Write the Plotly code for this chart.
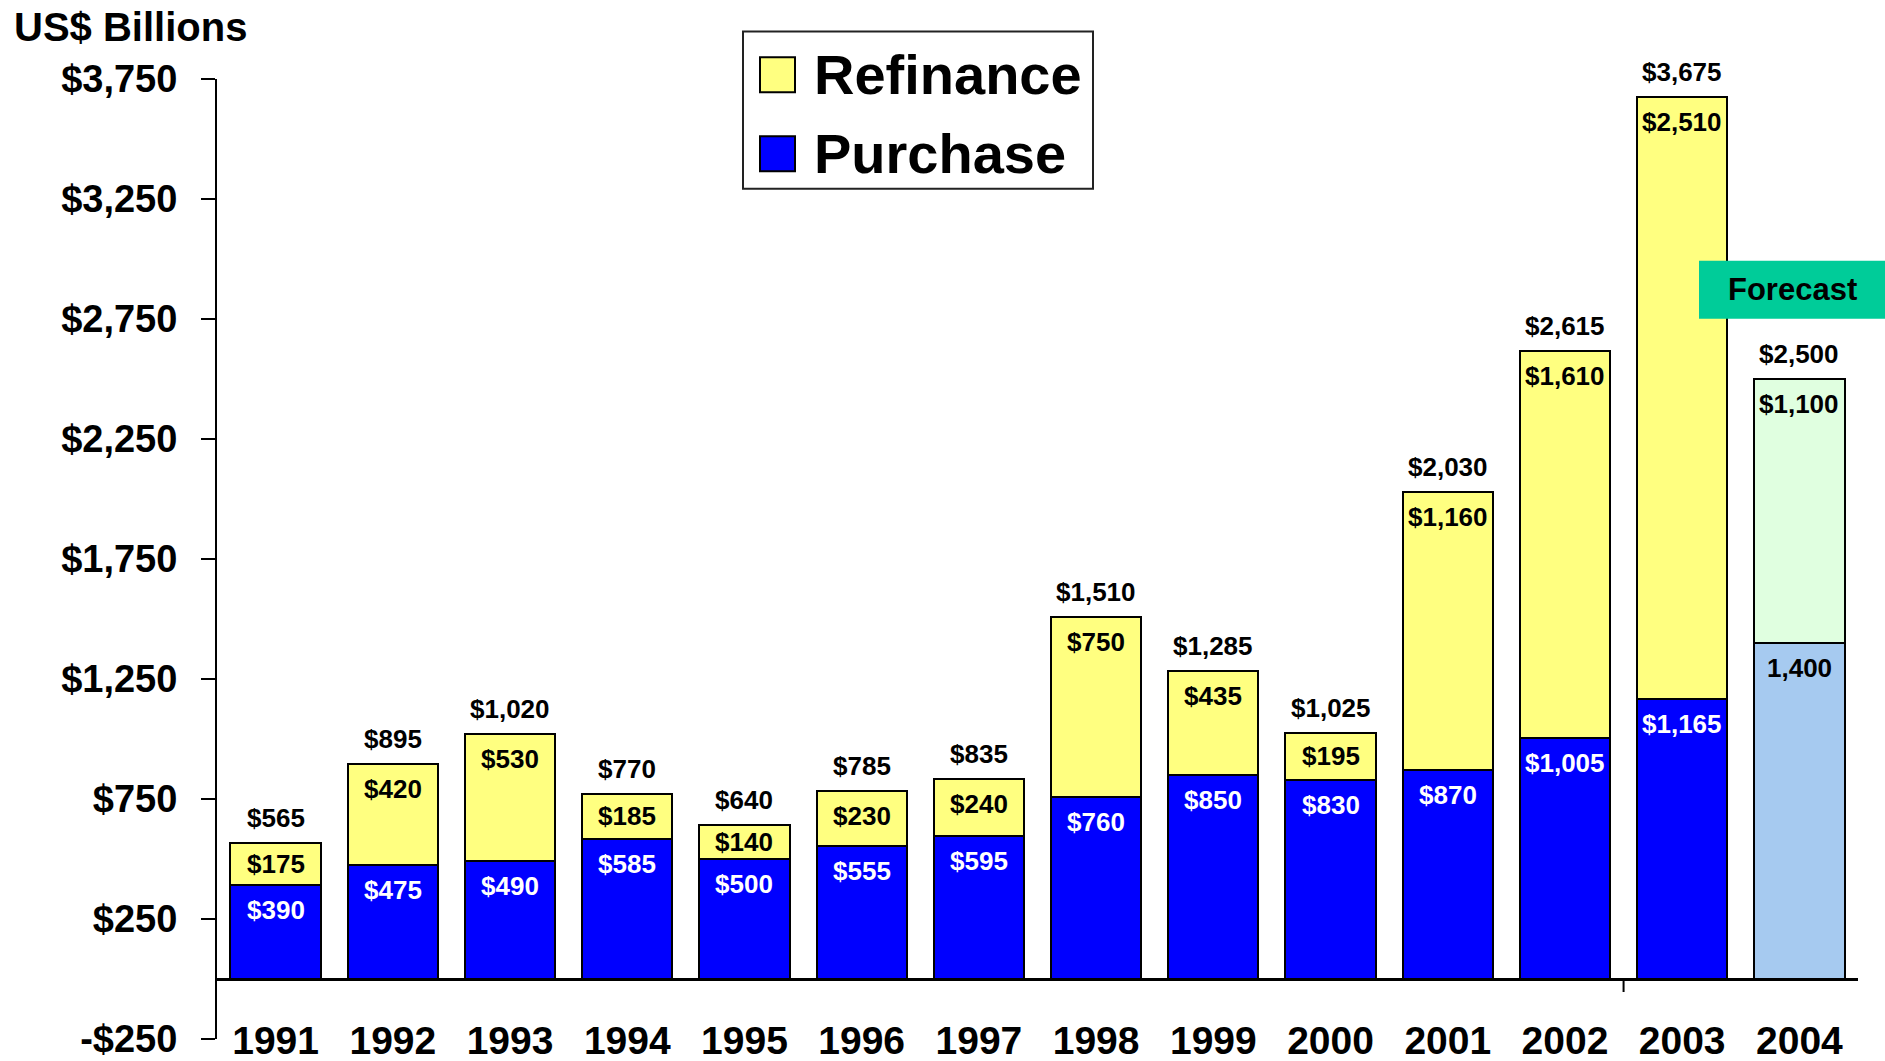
import plotly.graph_objects as go

# ---------------- data ----------------
years = ["1991", "1992", "1993", "1994", "1995", "1996", "1997",
         "1998", "1999", "2000", "2001", "2002", "2003", "2004"]
purchase = [390, 475, 490, 585, 500, 555, 595, 760, 850, 830, 870, 1005, 1165, 1400]
refinance = [175, 420, 530, 185, 140, 230, 240, 750, 435, 195, 1160, 1610, 2510, 1100]
totals = [565, 895, 1020, 770, 640, 785, 835, 1510, 1285, 1025, 2030, 2615, 3675, 2500]
y_ticks = [-250, 250, 750, 1250, 1750, 2250, 2750, 3250, 3750]
series_names = ["Refinance", "Purchase"]
axis_title = "US$ Billions"
forecast_label = "Forecast"
forecast_year = "2004"

# ---------------- styles ----------------
FONT = "Liberation Sans, Arial, Helvetica, sans-serif"
YELLOW = "#FFFF80"
BLUE = "#0000FF"
LIGHT_BLUE = "#A6CAF0"
LIGHT_GREEN = "#E0FFE0"
TEAL = "#00CC99"

W, H = 1885, 1061
L, R, T, B = 217, 1858, 79.3, 1039.5
Y_MIN, Y_MAX = -250, 3750
PPU = (B - T) / (Y_MAX - Y_MIN)  # pixels per unit


def px_x(x):
    return (x - L) / (R - L)


def px_y(y):
    return (B - y) / (B - T)


def money(v):
    return ("-" if v < 0 else "") + "${:,}".format(abs(v))


is_fc = [y == forecast_year for y in years]
purchase_colors = [LIGHT_BLUE if f else BLUE for f in is_fc]
refinance_colors = [LIGHT_GREEN if f else YELLOW for f in is_fc]
xpos = list(range(len(years)))

fig = go.Figure()
fig.add_trace(go.Bar(
    x=xpos, y=purchase, name=series_names[1],
    marker=dict(color=purchase_colors, line=dict(color="black", width=2)),
    width=0.77, showlegend=False, hoverinfo="skip",
))
fig.add_trace(go.Bar(
    x=xpos, y=refinance, name=series_names[0],
    marker=dict(color=refinance_colors, line=dict(color="black", width=2)),
    width=0.77, showlegend=False, hoverinfo="skip",
))

annotations = []
INSET = 25  # px below segment top
LAB = 26
for i in xpos:
    # purchase label
    seg = purchase[i]
    txt = money(seg) if not is_fc[i] else "{:,}".format(seg)
    if seg * PPU / 2 < INSET:
        yv, ys = seg / 2, 0
    else:
        yv, ys = seg, -INSET
    annotations.append(dict(
        x=i, y=yv, yshift=ys, text=txt, showarrow=False, xanchor="center", yanchor="middle",
        font=dict(family=FONT, size=LAB, weight="bold", color="black" if is_fc[i] else "white"),
    ))
    # refinance label
    seg = refinance[i]
    top = purchase[i] + refinance[i]
    if seg * PPU / 2 < INSET:
        yv, ys = purchase[i] + seg / 2, 0
    else:
        yv, ys = top, -INSET
    annotations.append(dict(
        x=i, y=yv, yshift=ys, text=money(seg), showarrow=False, xanchor="center", yanchor="middle",
        font=dict(family=FONT, size=LAB, weight="bold", color="black"),
    ))
    # total label
    annotations.append(dict(
        x=i, y=totals[i], yshift=25, text=money(totals[i]), showarrow=False,
        xanchor="center", yanchor="middle",
        font=dict(family=FONT, size=LAB, weight="bold", color="black"),
    ))

# axis title
annotations.append(dict(
    xref="paper", yref="paper", x=px_x(12), y=px_y(27.5), text=axis_title, showarrow=False,
    xanchor="left", yanchor="middle", font=dict(family=FONT, size=40, weight="bold", color="black"),
))

shapes = []
# legend (manual, to get large swatches)
shapes.append(dict(type="rect", xref="paper", yref="paper",
                   x0=px_x(743), x1=px_x(1093), y0=px_y(189), y1=px_y(31.7),
                   line=dict(color="#222222", width=2), fillcolor="white"))
legend_items = [(series_names[0], YELLOW, 75), (series_names[1], BLUE, 154)]
for name, col, cy in legend_items:
    shapes.append(dict(type="rect", xref="paper", yref="paper",
                       x0=px_x(760), x1=px_x(795), y0=px_y(cy + 17.5), y1=px_y(cy - 17.5),
                       line=dict(color="black", width=2), fillcolor=col))
    annotations.append(dict(
        xref="paper", yref="paper", x=px_x(812), y=px_y(cy), text=name, showarrow=False,
        xanchor="left", yanchor="middle", font=dict(family=FONT, size=56, weight="bold", color="black"),
    ))

# forecast box
shapes.append(dict(type="rect", xref="paper", yref="paper",
                   x0=px_x(1699), x1=px_x(1890), y0=px_y(319), y1=px_y(261),
                   line=dict(width=0), fillcolor=TEAL))
annotations.append(dict(
    xref="paper", yref="paper", x=px_x(1792), y=px_y(290), text=forecast_label, showarrow=False,
    xanchor="center", yanchor="middle", font=dict(family=FONT, size=31, weight="bold", color="black"),
))

# single category tick below the baseline
shapes.append(dict(type="line", xref="x", yref="y", x0=11.5, x1=11.5, y0=0, y1=-13 / PPU,
                   line=dict(color="black", width=2)))

fig.update_layout(
    width=W, height=H,
    margin=dict(l=L, r=W - R, t=T, b=H - B, pad=0),
    barmode="stack",
    plot_bgcolor="white", paper_bgcolor="white",
    showlegend=False,
    annotations=annotations,
    shapes=shapes,
    xaxis=dict(
        range=[-0.5, len(years) - 0.5], tickvals=xpos, ticktext=years,
        anchor="free", position=px_y(B - 25.5), automargin=False,
        ticklabeloverflow="allow",
        showline=False, ticks="", showgrid=False, zeroline=False,
        tickfont=dict(family=FONT, size=39, weight="bold", color="black"),
    ),
    yaxis=dict(
        range=[Y_MIN, Y_MAX], tickvals=y_ticks, ticktext=[money(v) for v in y_ticks],
        automargin=False, ticklabeloverflow="allow",
        showline=True, linecolor="black", linewidth=2,
        ticks="outside", ticklen=14, tickwidth=2, tickcolor="black",
        ticklabelstandoff=16,
        showgrid=False, zeroline=True, zerolinecolor="black", zerolinewidth=3,
        tickfont=dict(family=FONT, size=38, weight="bold", color="black"),
    ),
)

fig.write_html("out.html", config={"displayModeBar": False},
               post_script="document.body.style.margin='0';document.body.style.overflow='hidden';")
